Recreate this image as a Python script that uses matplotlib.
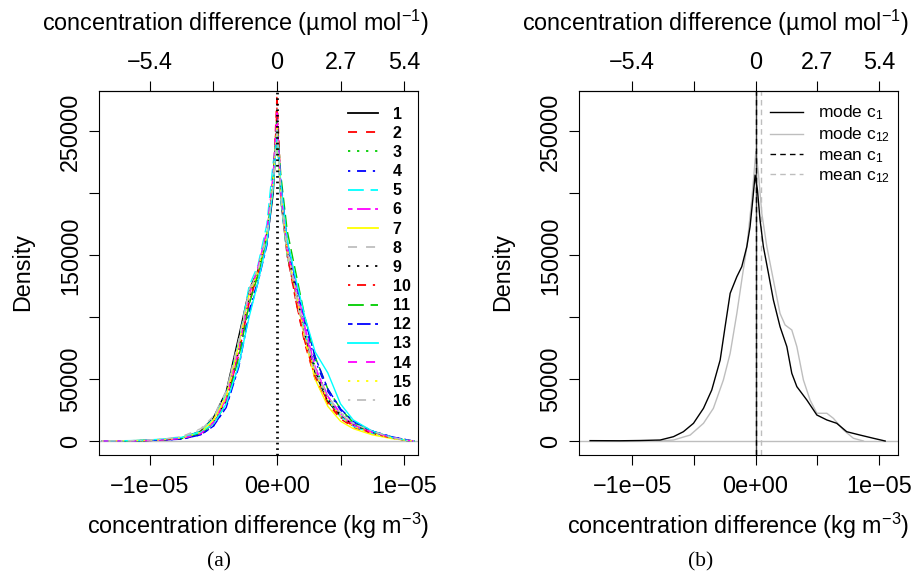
import numpy as np
import matplotlib
matplotlib.use("Agg")
import matplotlib.pyplot as plt
from matplotlib.lines import Line2D

plt.rcParams['font.family'] = ['Liberation Sans', 'DejaVu Sans']
plt.rcParams['mathtext.fontset'] = 'custom'
plt.rcParams['mathtext.rm'] = 'Liberation Sans'
plt.rcParams['mathtext.it'] = 'Liberation Sans:italic'
plt.rcParams['axes.unicode_minus'] = True

# ---------------- data ----------------
# panel (a): 16 density curves, x in 1e-05 kg m-3, density in thousands
x_a = [-1.38, -1.1, -0.9, -0.75, -0.6, -0.5, -0.4, -0.3, -0.22, -0.15, -0.08, -0.03, 0,
       0.03, 0.08, 0.15, 0.22, 0.3, 0.4, 0.5, 0.6, 0.75, 0.9, 1.02, 1.08]
dens_1 = [0, 0.3, 1, 2.5, 8, 19, 40, 85, 122, 138, 160, 200, 255, 195, 150, 118, 85, 55, 32, 20, 13, 7, 3, 0.5, 0]
dens_2 = [0, 0.2, 0.8, 2, 6, 15, 32, 70, 112, 135, 162, 210, 280, 205, 150, 112, 78, 50, 30, 18, 11, 6, 2.5, 0.5, 0]
dens_3 = [0, 0.3, 1, 2.5, 7, 16, 35, 75, 115, 136, 165, 215, 265, 200, 155, 122, 90, 60, 36, 22, 14, 7, 3, 0.5, 0]
dens_4 = [0, 0.2, 0.8, 1.5, 5, 12, 28, 62, 105, 130, 160, 205, 262, 205, 160, 125, 95, 65, 40, 25, 15, 8, 3.5, 1, 0]
dens_5 = [0, 0.3, 1, 2.5, 8, 18, 38, 80, 125, 142, 175, 225, 245, 195, 150, 120, 88, 58, 34, 20, 12, 6, 2.5, 0.5, 0]
dens_6 = [0, 0.2, 0.8, 2, 6, 15, 34, 72, 115, 140, 168, 210, 258, 205, 160, 128, 92, 60, 36, 22, 13, 7, 3, 0.5, 0]
dens_7 = [0, 0.3, 1, 2.5, 7, 17, 36, 78, 118, 136, 165, 205, 250, 200, 152, 118, 82, 50, 28, 16, 10, 5, 2, 0.5, 0]
dens_8 = [0, 0.3, 1.5, 3.5, 10, 20, 40, 82, 122, 140, 168, 215, 258, 198, 150, 115, 82, 55, 35, 23, 15, 8, 3, 0.5, 0]
dens_9 = [0, 0.2, 0.8, 2, 6, 15, 33, 74, 116, 138, 166, 212, 262, 202, 155, 120, 86, 57, 34, 21, 13, 7, 3, 0.5, 0]
dens_10 = [0, 0.3, 1, 2, 6, 14, 32, 70, 112, 135, 162, 208, 270, 205, 152, 112, 80, 52, 32, 19, 12, 6, 2.5, 0.5, 0]
dens_11 = [0, 0.2, 0.8, 2, 6, 14, 30, 68, 110, 134, 165, 210, 258, 215, 170, 135, 100, 68, 42, 26, 15, 8, 3, 0.5, 0]
dens_12 = [0, 0.2, 0.8, 1.5, 5, 12, 27, 60, 102, 128, 158, 205, 255, 210, 162, 128, 98, 68, 42, 26, 16, 8, 3.5, 1, 0]
dens_13 = [0, 0.4, 1.5, 3, 7, 14, 30, 62, 100, 128, 160, 205, 252, 208, 162, 130, 100, 72, 55, 30, 17, 8, 3, 0.5, 0]
dens_14 = [0, 0.2, 0.8, 2, 6, 15, 34, 74, 118, 140, 170, 215, 265, 200, 155, 120, 88, 58, 36, 22, 13, 7, 3, 0.5, 0]
dens_15 = [0, 0.3, 1, 2.5, 7, 16, 35, 76, 118, 138, 166, 210, 255, 200, 155, 120, 85, 55, 33, 20, 12, 6, 2.5, 0.5, 0]
dens_16 = [0, 0.3, 1.5, 3.5, 9, 19, 40, 80, 120, 138, 165, 208, 252, 200, 155, 120, 86, 58, 36, 22, 14, 8, 3, 0.5, 0]
curves_a = [dens_1, dens_2, dens_3, dens_4, dens_5, dens_6, dens_7, dens_8,
            dens_9, dens_10, dens_11, dens_12, dens_13, dens_14, dens_15, dens_16]
labels_a = [str(i) for i in range(1, 17)]

# panel (b)
x_mode_c1 = [-1.34, -1.1, -0.935, -0.773, -0.665, -0.585, -0.503, -0.422, -0.355, -0.287, -0.247,
             -0.206, -0.152, -0.112, -0.071, -0.045, -0.023, -0.004, 0.015, 0.036, 0.063, 0.104,
             0.144, 0.198, 0.253, 0.293, 0.334, 0.415, 0.496, 0.577, 0.657, 0.738, 0.846, 0.954, 1.049]
y_mode_c1 = [0.3, 0.2, 0.4, 0.8, 3.5, 7.5, 14.3, 26.4, 41.2, 65.4, 92.3,
             119.3, 132.7, 140.8, 157, 173, 194.7, 214.8, 202.7, 178.5, 157, 135.4,
             113.9, 92.3, 76.2, 54.7, 43.9, 33.1, 21, 17, 14.3, 7.5, 4.8, 2.2, 0]
x_mode_c12 = [-0.8, -0.665, -0.53, -0.422, -0.342, -0.261, -0.206, -0.152, -0.112, -0.071, -0.031,
              0.002, 0.023, 0.05, 0.091, 0.144, 0.198, 0.239, 0.293, 0.334, 0.387, 0.441, 0.496,
              0.577, 0.63, 0.711, 0.792, 0.873]
y_mode_c12 = [0, 0.8, 4.8, 14.3, 26.4, 49.3, 70.8, 103, 130, 157, 194.7,
              233.7, 216, 184, 157, 130, 103, 93.7, 89.7, 76.2, 49.3, 33.1, 22.4,
              22.4, 18.3, 8.9, 2.2, 0]
mean_c1 = 0.0
mean_c12 = 0.042
labels_b = ['mode c$_{1}$', 'mode c$_{12}$', 'mean c$_{1}$', 'mean c$_{12}$']

bottom_ticks = [-1.0, -0.5, 0, 0.5, 1.0]
bottom_labels = ['\u22121e\u221205', '', '0e+00', '', '1e\u221205']
top_ticks = [-5.4, -2.7, 0, 2.7, 5.4]
top_labels = ['\u22125.4', '', '0', '2.7', '5.4']
y_ticks = [0, 50, 100, 150, 200, 250]
y_labels = ['0', '50000', '', '150000', '', '250000']

# R palette and line types
r_cols = ['black', '#FF0000', '#00CD00', '#0000FF', '#00FFFF', '#FF00FF', '#FFFF00', '#BEBEBE']
s = 1.25
r_lty = ['-', (0, (4 * s, 4 * s)), (0, (1 * s, 3 * s)), (0, (1 * s, 3 * s, 4 * s, 3 * s)),
         (0, (7 * s, 3 * s)), (0, (2 * s, 2 * s, 6 * s, 2 * s))]

W, H = 914, 573
fig = plt.figure(figsize=(W / 100, H / 100), dpi=100)
FS = 16.8


def setup_axes(ax, xlim):
    ax.set_xlim(*xlim)
    ax.set_ylim(-11.3, 282.7)
    ax.set_xticks(bottom_ticks)
    ax.set_xticklabels(bottom_labels)
    ax.set_yticks(y_ticks)
    ax.set_yticklabels(y_labels, rotation=90, va='center')
    ax.tick_params(axis='x', direction='out', length=7.2, width=0.8, labelsize=FS, pad=7)
    ax.tick_params(axis='y', direction='out', length=7.2, width=0.8, labelsize=FS, pad=5)
    for sp in ax.spines.values():
        sp.set_linewidth(0.8)
    top = ax.secondary_xaxis('top', functions=(lambda v: v * 5.4, lambda v: v / 5.4))
    top.set_xticks(top_ticks)
    top.set_xticklabels(top_labels)
    top.tick_params(direction='out', length=7.2, width=0.8, labelsize=FS, pad=5)
    top.spines['top'].set_linewidth(0.8)
    ax.axhline(0, color='#BEBEBE', lw=1.0, zorder=1)


# ---------------- panel (a) ----------------
ax_a = fig.add_axes([99.3 / W, 1 - 455 / H, (418 - 99.3) / W, 364 / H])
setup_axes(ax_a, (-1.399, 1.110))
handles = []
for i, dens in enumerate(curves_a):
    col = r_cols[i % 8]
    ls = r_lty[i % 6]
    ax_a.plot(x_a, dens, color=col, linestyle=ls, lw=1.0, zorder=2)
    handles.append(Line2D([], [], color=col, linestyle=ls, lw=1.3))
ax_a.axvline(0, color='black', lw=2.0, linestyle=(0, (0.6, 1.4)), zorder=3)
leg = ax_a.legend(handles, labels_a, loc='upper left', bbox_to_anchor=(0.78, 0.957),
                  frameon=False, borderpad=0, borderaxespad=0, handlelength=1.9,
                  handletextpad=0.9, labelspacing=0.26,
                  prop={'size': 11.5, 'weight': 'bold'})

# ---------------- panel (b) ----------------
ax_b = fig.add_axes([579 / W, 1 - 455 / H, (898 - 579) / W, 364 / H])
setup_axes(ax_b, (-1.430, 1.153))
ax_b.plot(x_mode_c1, y_mode_c1, color='black', lw=1.0, zorder=3)
ax_b.plot(x_mode_c12, y_mode_c12, color='#BEBEBE', lw=1.0, zorder=2)
ax_b.axvline(0, color='#404040', lw=1.0, zorder=2)
ax_b.axvline(mean_c1, color='black', lw=1.0, linestyle=(0, (4, 3)), zorder=2)
ax_b.axvline(mean_c12, color='#BEBEBE', lw=1.0, linestyle=(0, (4, 3)), zorder=2)
handles_b = [Line2D([], [], color='black', lw=1.0),
             Line2D([], [], color='#BEBEBE', lw=1.0),
             Line2D([], [], color='black', lw=1.0, linestyle=(0, (4, 3))),
             Line2D([], [], color='#BEBEBE', lw=1.0, linestyle=(0, (4, 3)))]
ax_b.legend(handles_b, labels_b, loc='upper left', bbox_to_anchor=(0.60, 0.965),
            frameon=False, borderpad=0, borderaxespad=0, handlelength=1.85,
            handletextpad=0.9, labelspacing=0.19, prop={'size': 12.5})

# ---------------- labels ----------------
for cx, tx, dx, px, tag in [(258, 235, 23, 219, '(a)'), (738, 715, 503, 701, '(b)')]:
    fig.text(cx / W, 1 - 526 / H, 'concentration difference (kg m$^{\u22123}$)',
             ha='center', va='center', fontsize=FS)
    fig.text(tx / W, 1 - 23 / H, 'concentration difference (\u00b5mol mol$^{\u22121}$)',
             ha='center', va='center', fontsize=FS)
    fig.text(dx / W, 1 - 272 / H, 'Density', rotation=90, ha='center', va='center', fontsize=FS)
    fig.text(px / W, 1 - 562 / H, tag, ha='center', va='center', fontsize=15.5,
             family='Liberation Serif')

fig.savefig('out.png', dpi=100)
